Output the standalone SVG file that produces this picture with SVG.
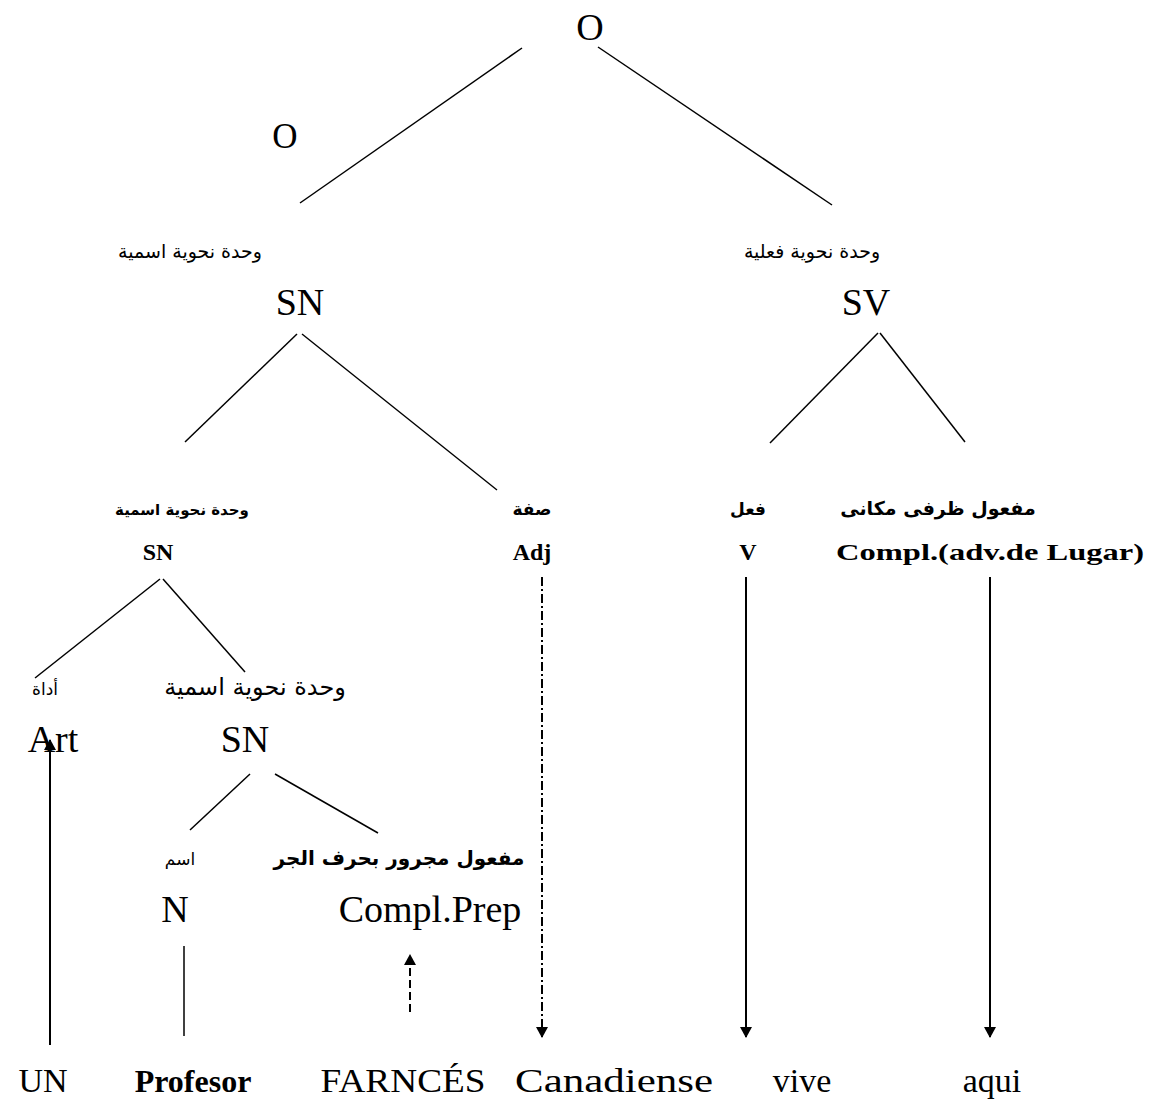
<svg xmlns="http://www.w3.org/2000/svg" width="1151" height="1108" viewBox="0 0 1151 1108">
<style>
.big{font-family:"Liberation Serif",serif;font-size:38px;fill:#000;text-anchor:middle}
.sm{font-family:"Liberation Serif",serif;font-size:24px;font-weight:bold;fill:#000;text-anchor:middle}
.ar{font-family:"DejaVu Sans",sans-serif;font-size:19px;fill:#000;text-anchor:middle}
.arb{font-family:"DejaVu Sans",sans-serif;font-size:17px;font-weight:bold;fill:#000;text-anchor:middle}
.word{font-family:"Liberation Serif",serif;font-size:34px;fill:#000;text-anchor:middle}
.ln{stroke:#000;stroke-width:1.5;fill:none}
.ar2{stroke:#000;stroke-width:2;fill:none}
</style>
<defs>
<marker id="ah" markerWidth="12" markerHeight="12" refX="10" refY="6" orient="auto" markerUnits="userSpaceOnUse">
<path d="M0,0 L11,6 L0,12 Z" fill="#000"/>
</marker>
</defs>
<rect width="1151" height="1108" fill="#fff"/>
<g id="n-O-top"><text class="big" x="590" y="40">O</text></g>
<g id="n-O-left"><text class="big" x="285" y="148" style="font-size:35px">O</text></g>
<g id="n-SN1"><text class="ar" x="190" y="258">وحدة نحوية اسمية</text><text class="big" x="300" y="315">SN</text></g>
<g id="n-SV"><text class="ar" x="812" y="258">وحدة نحوية فعلية</text><text class="big" x="866" y="315">SV</text></g>
<g id="n-SN2"><text class="arb" x="182" y="515" style="font-size:15px">وحدة نحوية اسمية</text><text class="sm" x="158" y="560">SN</text></g>
<g id="n-Adj"><text class="arb" x="532" y="515">صفة</text><text class="sm" x="532" y="560">Adj</text></g>
<g id="n-V"><text class="arb" x="748" y="515">فعل</text><text class="sm" x="748" y="560">V</text></g>
<g id="n-Compl"><text class="arb" x="938" y="515" style="font-size:19px">مفعول ظرفى مكانى</text><text class="sm" x="990" y="560" textLength="308" lengthAdjust="spacingAndGlyphs">Compl.(adv.de Lugar)</text></g>
<g id="n-Art"><text class="ar" x="45" y="695" style="font-size:17px">أداة</text><text class="big" x="53" y="752">Art</text></g>
<g id="n-SN3"><text class="ar" x="255" y="695" style="font-size:24px">وحدة نحوية اسمية</text><text class="big" x="245" y="752">SN</text></g>
<g id="n-N"><text class="ar" x="180" y="865" style="font-size:17px">اسم</text><text class="big" x="175" y="922">N</text></g>
<g id="n-CompPrep"><text class="arb" x="399" y="865" style="font-size:20px">مفعول مجرور بحرف الجر</text><text class="big" x="430" y="922">Compl.Prep</text></g>
<g id="words">
<text class="word" x="43" y="1092">UN</text>
<text class="word" x="193" y="1092" style="font-size:32px;font-weight:bold">Profesor</text>
<text class="word" x="403" y="1092" textLength="165" lengthAdjust="spacingAndGlyphs">FARNCÉS</text>
<text class="word" x="614" y="1092" textLength="198" lengthAdjust="spacingAndGlyphs">Canadiense</text>
<text class="word" x="802" y="1092">vive</text>
<text class="word" x="992" y="1092">aqui</text>
</g>
<g id="connectors">
<line class="ln" x1="522" y1="48" x2="300" y2="203"/>
<line class="ln" x1="598" y1="47" x2="832" y2="205"/>
<line class="ln" x1="297" y1="334" x2="185" y2="442"/>
<line class="ln" x1="302" y1="334" x2="497" y2="490"/>
<line class="ln" x1="878" y1="333" x2="770" y2="443"/>
<line class="ln" x1="880" y1="333" x2="965" y2="442"/>
<line class="ln" x1="160" y1="579" x2="35" y2="678"/>
<line class="ln" x1="163" y1="579" x2="245" y2="672"/>
<line class="ln" x1="250" y1="774" x2="190" y2="830"/>
<line class="ln" x1="275" y1="774" x2="378" y2="833"/>
<line class="ar2" x1="50" y1="1045" x2="50" y2="740" marker-end="url(#ah)"/>
<line class="ln" x1="184" y1="946" x2="184" y2="1036"/>
<line class="ar2" x1="410" y1="1012" x2="410" y2="955" stroke-dasharray="8,4" marker-end="url(#ah)"/>
<line class="ar2" x1="542" y1="577" x2="542" y2="1037" stroke-dasharray="9,3,2,3" marker-end="url(#ah)"/>
<line class="ar2" x1="746" y1="577" x2="746" y2="1037" marker-end="url(#ah)"/>
<line class="ar2" x1="990" y1="577" x2="990" y2="1037" marker-end="url(#ah)"/>
</g>
</svg>
